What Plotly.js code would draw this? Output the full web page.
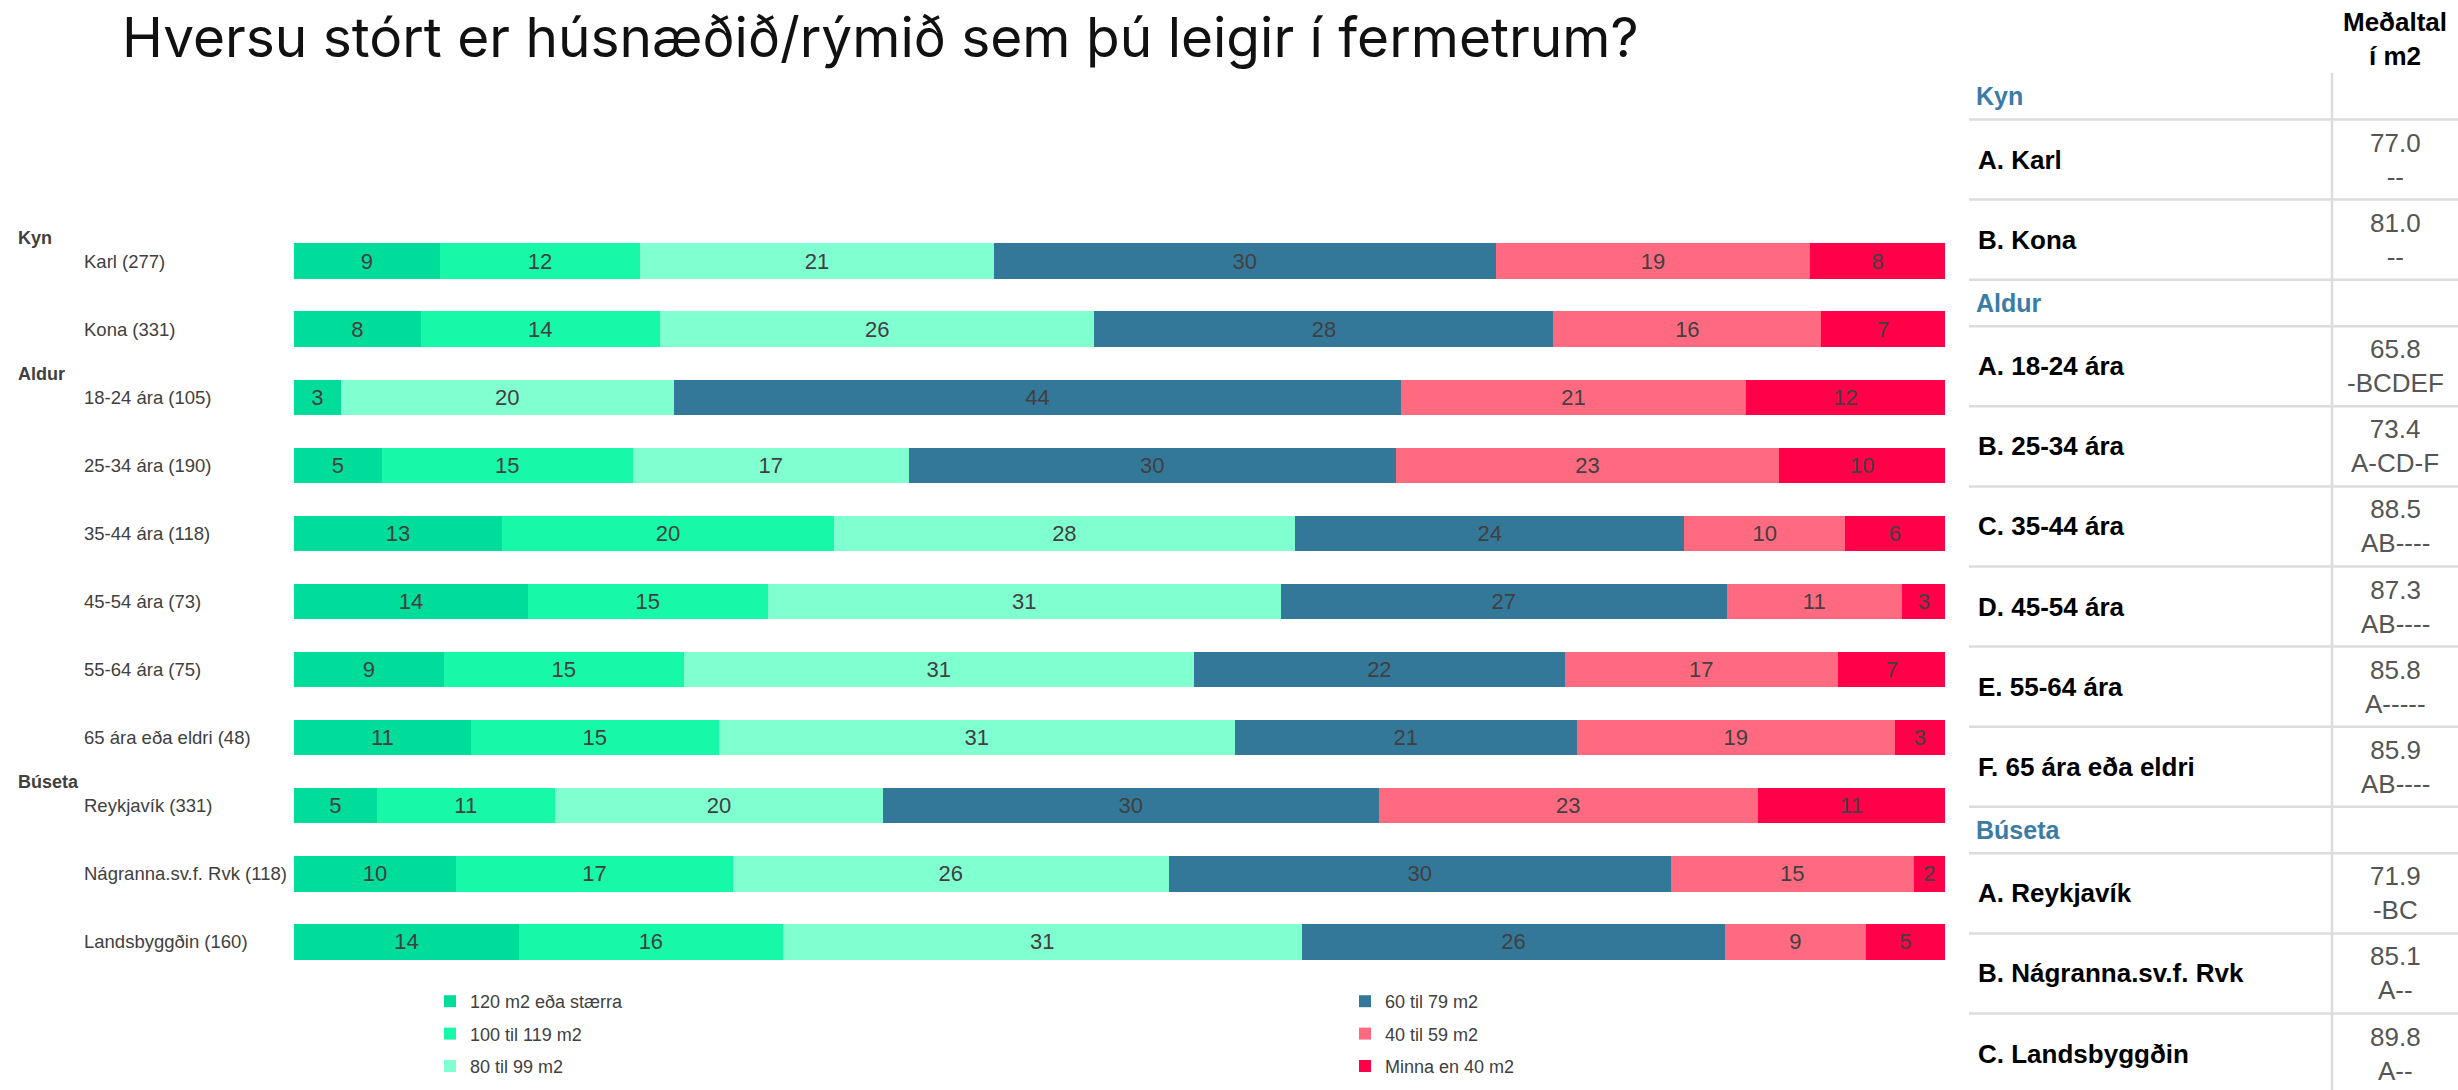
<!DOCTYPE html>
<html><head><meta charset="utf-8">
<script src="https://cdn.plot.ly/plotly-3.0.1.min.js"></script>
<style>html,body{margin:0;padding:0;background:#fff;overflow:hidden}#chart{width:2458px;height:1090px}</style>
</head><body><div id="chart"></div>
<script>
// ---------- Data ----------
const categories = ['Karl (277)','Kona (331)','18-24 ára (105)','25-34 ára (190)','35-44 ára (118)','45-54 ára (73)','55-64 ára (75)','65 ára eða eldri (48)','Reykjavík (331)','Nágranna.sv.f. Rvk (118)','Landsbyggðin (160)'];
const groupLabels = ['Kyn','Aldur','Búseta'];
const groupFirstCategory = ['Karl (277)','18-24 ára (105)','Reykjavík (331)'];
const seriesNames = ['120 m2 eða stærra','100 til 119 m2','80 til 99 m2','60 til 79 m2','40 til 59 m2','Minna en 40 m2'];
const seriesColors = ['#00DC9A','#17F9A8','#80FFD0','#347899','#FF6A80','#FF0049'];
const s120 = [8.82,7.67,2.82,5.32,12.6,14.17,9.08,10.71,5.0,9.81,13.63];
const s100 = [12.15,14.49,null,15.2,20.1,14.52,14.52,15.01,10.81,16.77,15.97];
const s80  = [21.42,26.32,20.2,16.71,27.92,31.07,30.9,31.26,19.85,26.41,31.45];
const s60  = [30.39,27.8,44.02,29.5,23.6,27.03,22.48,20.71,30.04,30.4,25.62];
const s40  = [19.07,16.23,20.91,23.22,9.72,10.58,16.52,19.27,22.96,14.72,8.53];
const s00  = [8.15,7.47,12.05,10.07,6.06,2.70,6.57,3.05,11.35,1.89,4.81];
const seriesValues = [s120,s100,s80,s60,s40,s00];

const tableHeader = 'Meðaltal<br>í m2';
const tableRowLabels = ['Kyn','A. Karl','B. Kona','Aldur','A. 18-24 ára','B. 25-34 ára','C. 35-44 ára','D. 45-54 ára','E. 55-64 ára','F. 65 ára eða eldri','Búseta','A. Reykjavík','B. Nágranna.sv.f. Rvk','C. Landsbyggðin'];
const tableRowIsGroup = [true,false,false,true,false,false,false,false,false,false,true,false,false,false];
const tableMeans = [null,77.0,81.0,null,65.8,73.4,88.5,87.3,85.8,85.9,null,71.9,85.1,89.8];
const tableSig = [null,'--','--',null,'-BCDEF','A-CD-F','AB----','AB----','A-----','AB----',null,'-BC','A--','A--'];

// ---------- Geometry ----------
const W = 2458, H = 1090;
const L = 294, R = 1945, T = 227, B = 976;
const PW = R - L, PH = B - T;
const px2x = p => (p - L) / PW;
const py2y = p => (B - p) / PH;
const FONT = 'Liberation Sans, Arial, Helvetica, sans-serif';
const TXT = '#404040';

// ---------- Traces ----------
const traces = seriesNames.map((name, i) => ({
  type: 'bar', orientation: 'h', name: name,
  y: categories, x: seriesValues[i],
  marker: {color: seriesColors[i], line: {width: 0}},
  texttemplate: '%{x:.0f}', textposition: 'inside', insidetextanchor: 'middle',
  textangle: 0, constraintext: 'none',
  textfont: {family: FONT, size: 22, color: TXT},
  hoverinfo: 'skip',
  legend: i < 3 ? 'legend' : 'legend2',
  legendgroup: 'g' + i
}));

// ---------- Annotations ----------
const annotations = [];
categories.forEach(c => annotations.push({
  xref: 'paper', yref: 'y', x: px2x(82), y: c, xanchor: 'left', yanchor: 'middle',
  text: c, showarrow: false, font: {family: FONT, size: 18.5, color: TXT}
}));
groupLabels.forEach((g, i) => annotations.push({
  xref: 'paper', yref: 'y', x: px2x(16), y: groupFirstCategory[i], yshift: 23.5,
  xanchor: 'left', yanchor: 'middle', text: '<b>' + g + '</b>', showarrow: false,
  font: {family: FONT, size: 18, color: TXT}
}));

// Table
const shapes = [];
const tabLeft = 1969, tabSep = 2332, tabRight = 2458, valCenter = 2395;
annotations.push({
  xref: 'paper', yref: 'paper', x: px2x(valCenter), y: py2y(38.5), xanchor: 'center', yanchor: 'middle',
  text: '<b>' + tableHeader + '</b>', showarrow: false, align: 'center',
  font: {family: FONT, size: 26, color: '#000'}
});
let yTop = 73;
tableRowLabels.forEach((lab, i) => {
  const h = tableRowIsGroup[i] ? 46.5 : 80.1;
  const yc = yTop + h / 2;
  if (tableRowIsGroup[i]) {
    annotations.push({xref: 'paper', yref: 'paper', x: px2x(1974), y: py2y(yc), xanchor: 'left', yanchor: 'middle',
      text: '<b>' + lab + '</b>', showarrow: false, font: {family: FONT, size: 25, color: '#3A7CA5'}});
  } else {
    annotations.push({xref: 'paper', yref: 'paper', x: px2x(1976), y: py2y(yc), xanchor: 'left', yanchor: 'middle',
      text: '<b>' + lab + '</b>', showarrow: false, font: {family: FONT, size: 26, color: '#000'}});
    annotations.push({xref: 'paper', yref: 'paper', x: px2x(valCenter), y: py2y(yc), xanchor: 'center', yanchor: 'middle',
      text: tableMeans[i].toFixed(1) + '<br>' + tableSig[i], showarrow: false, align: 'center',
      font: {family: FONT, size: 26, color: '#555'}});
  }
  yTop += h;
  if (i < tableRowLabels.length - 1) {
    shapes.push({type: 'line', xref: 'paper', yref: 'paper', x0: px2x(tabLeft), x1: px2x(tabRight),
      y0: py2y(yTop), y1: py2y(yTop), line: {color: '#DCDCDC', width: 2.5}});
  }
});
shapes.push({type: 'line', xref: 'paper', yref: 'paper', x0: px2x(tabSep), x1: px2x(tabSep),
  y0: py2y(73), y1: py2y(H), line: {color: '#DCDCDC', width: 2.5}});

// ---------- Layout ----------
const legendCommon = {
  xanchor: 'left', yanchor: 'top', y: py2y(983), orientation: 'v',
  traceorder: 'grouped', tracegroupgap: 6,
  font: {family: FONT, size: 18, color: TXT}, bgcolor: 'rgba(0,0,0,0)'
};
const layout = {
  width: W, height: H,
  margin: {l: L, r: W - R, t: T, b: H - B, pad: 0, autoexpand: false},
  paper_bgcolor: '#fff', plot_bgcolor: '#fff',
  barmode: 'stack', bargap: 0.48,
  showlegend: true,
  legend: Object.assign({}, legendCommon, {x: px2x(430)}),
  legend2: Object.assign({}, legendCommon, {x: px2x(1345)}),
  title: {
    text: 'Hversu stórt er húsnæðið/rýmið sem þú leigir í fermetrum?',
    xref: 'container', yref: 'container', x: 122 / W, xanchor: 'left', y: 1 - 38 / H, yanchor: 'middle',
    font: {family: 'Inter, sans-serif', size: 55, color: '#111'}
  },
  xaxis: {range: [0, 100], visible: false, fixedrange: true},
  yaxis: {type: 'category', categoryorder: 'array', categoryarray: categories, autorange: 'reversed',
    showticklabels: false, showgrid: false, zeroline: false, showline: false, ticks: '', fixedrange: true},
  annotations: annotations, shapes: shapes,
  font: {family: FONT, color: TXT}
};
Plotly.newPlot('chart', traces, layout, {displayModeBar: false, staticPlot: true});
</script></body></html>
